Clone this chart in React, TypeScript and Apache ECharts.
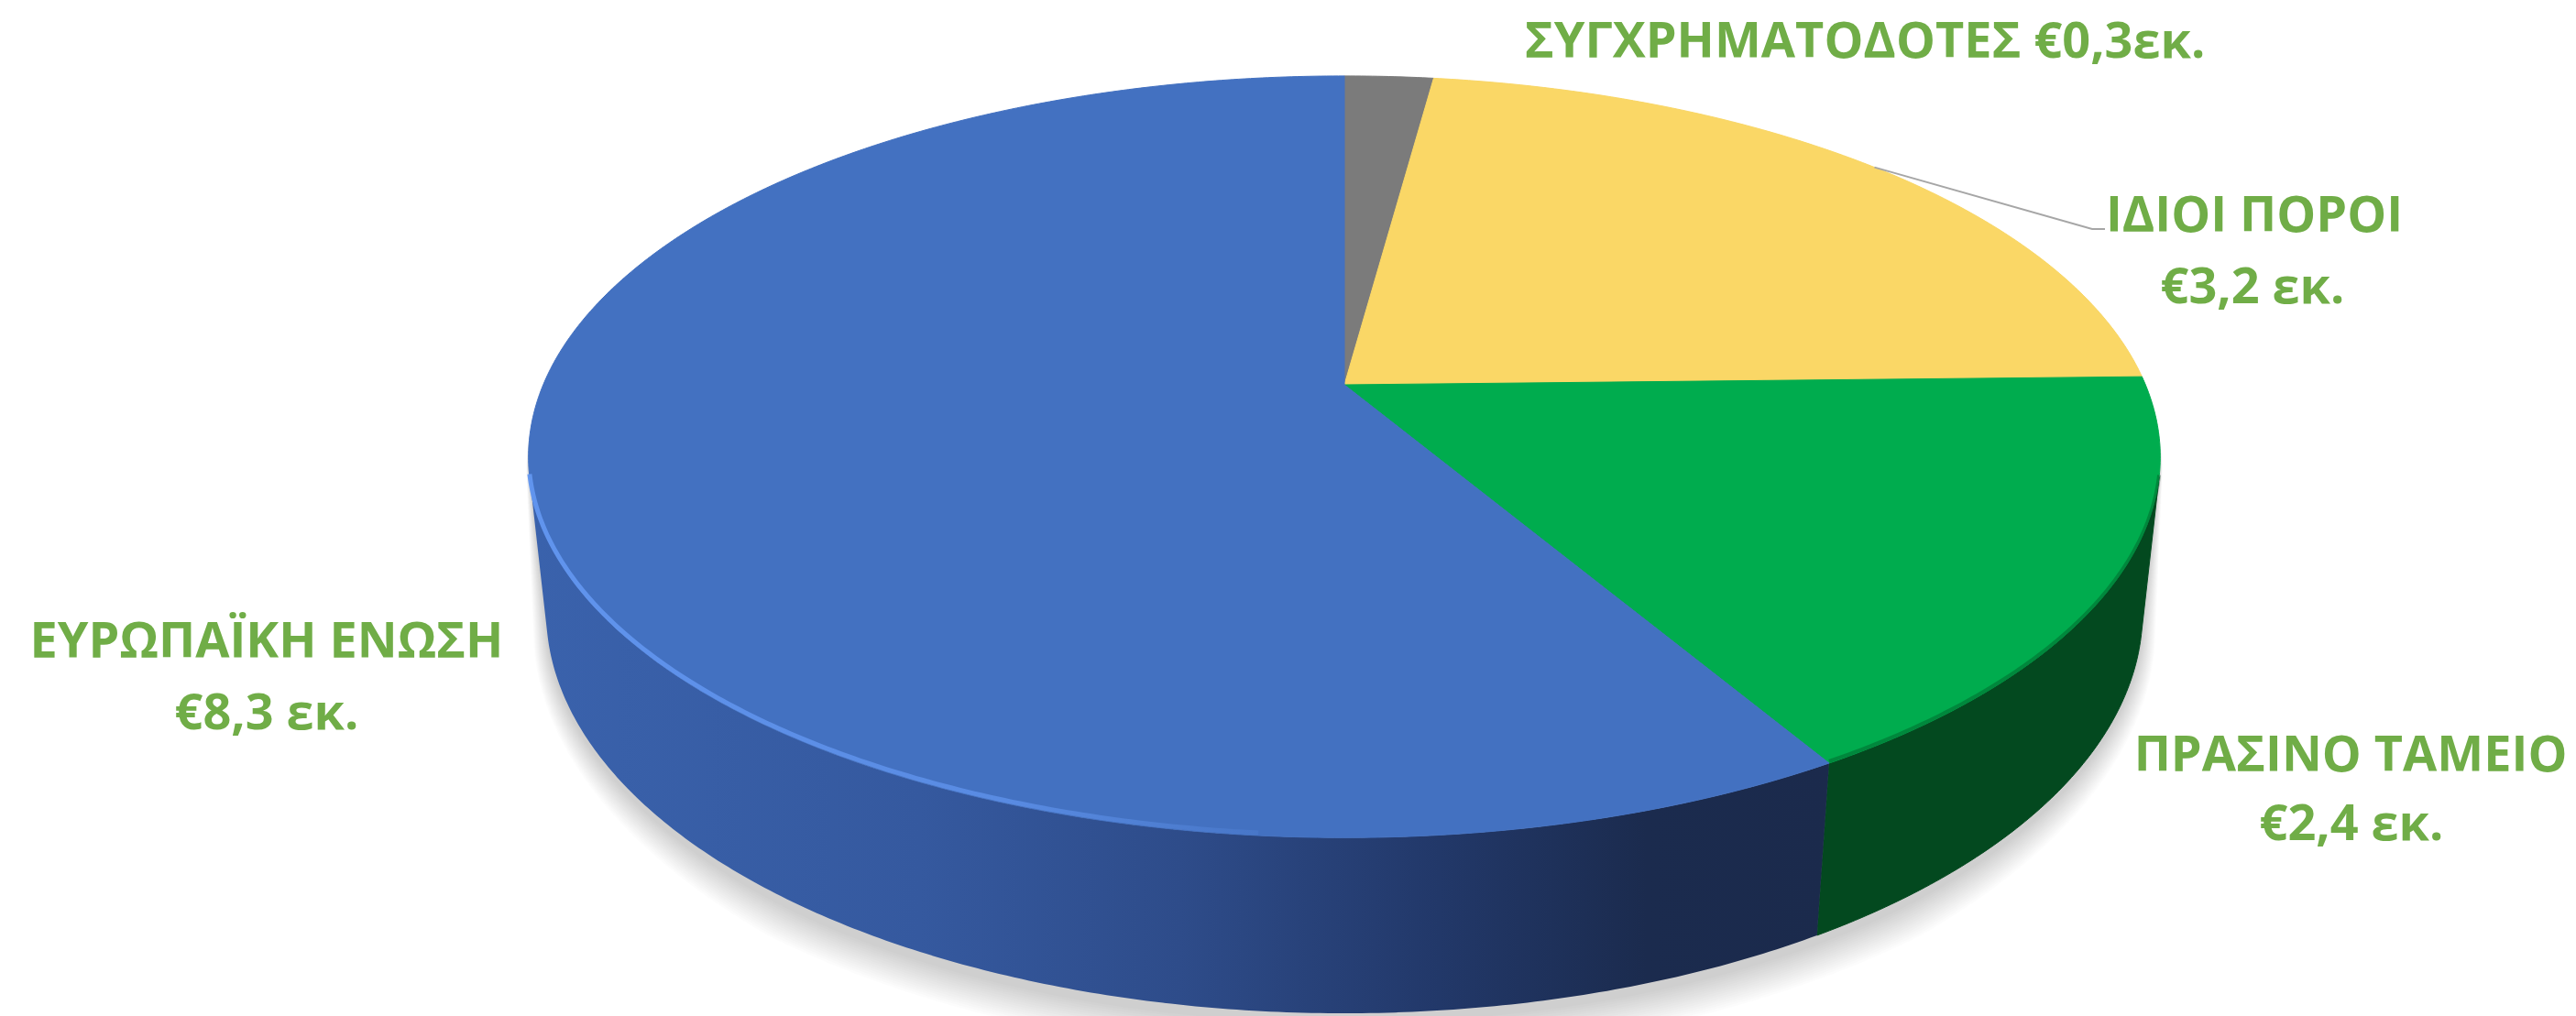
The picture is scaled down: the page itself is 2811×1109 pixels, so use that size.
import React, { useEffect, useRef } from 'react';
import * as echarts from 'echarts';

// ---- data ----
const categories = ['ΣΥΓΧΡΗΜΑΤΟΔΟΤΕΣ', 'ΙΔΙΟΙ ΠΟΡΟΙ', 'ΠΡΑΣΙΝΟ ΤΑΜΕΙΟ', 'ΕΥΡΩΠΑΪΚΗ ΕΝΩΣΗ'];
const values = [0.3, 3.2, 2.4, 8.3];
const valueLabels = ['€0,3εκ.', '€3,2 εκ.', '€2,4 εκ.', '€8,3 εκ.'];

// ---- styles ----
const TOP_COLORS = ['#7B7B7B', '#FAD766', '#00AC4E', '#4371C1'];
const LABEL_COLOR = '#70AD47';
const FONT = '"Open Sans", "Noto Sans", sans-serif';
const FONT_SIZE = 54;

// ---- 3D projection (perspective camera) ----
const CX = 1467;
const CY = 420;
const FOCAL = 4109;
const DIST = 4.7;
const SINP = 0.4585;
const COSP = 0.8887;
const THICK = 0.219;
const VS = 1 / (DIST * COSP);
const TH1 = (Math.acos(-VS) * 180) / Math.PI;
const TH2 = 360 - TH1;

function project(theta: number, y: number): number[] {
  const t = (theta * Math.PI) / 180;
  const u = Math.sin(t);
  const v = -Math.cos(t);
  const depth = DIST - y * SINP - v * COSP;
  return [CX + (FOCAL * u) / depth, CY - (FOCAL * (y * COSP - v * SINP)) / depth];
}

function arc(a: number, b: number, y: number): number[][] {
  const pts: number[][] = [];
  const n = Math.max(2, Math.ceil(Math.abs(b - a) / 0.5));
  for (let k = 0; k <= n; k++) pts.push(project(a + ((b - a) * k) / n, y));
  return pts;
}

// label anchors (pixel positions, center of each line)
const LABEL_POS: number[][][] = [
  [[2035, 42]],
  [[2460, 232], [2458, 310]],
  [[2565, 821], [2566, 896]],
  [[291, 697], [291, 775]],
];

export default function App() {
  const ref = useRef<HTMLDivElement>(null);
  useEffect(() => {
    document.body.style.margin = '0';
    document.body.style.overflow = 'hidden';
    const chart = echarts.init(ref.current!, undefined, { renderer: 'svg' });
    const total = values.reduce((s, v) => s + v, 0);
    let cum = 0;
    const data = values.map((v, i) => {
      const a = (cum / total) * 360;
      cum += v;
      const b = (cum / total) * 360;
      return { name: categories[i], value: [a, b, v, i] };
    });

    const sideFills: any[] = [
      '#4A4A4A',
      '#9C8540',
      '#03491F',
      new echarts.graphic.LinearGradient(0, 0, 1, 0, [
        { offset: 0, color: '#3A62AC' },
        { offset: 0.3, color: '#35599F' },
        { offset: 0.5, color: '#2E4C8A' },
        { offset: 0.7, color: '#223869' },
        { offset: 0.86, color: '#1B2B4E' },
        { offset: 1, color: '#1B2A4C' },
      ]),
    ];

    const option: any = {
      animation: false,
      backgroundColor: '#FFFFFF',
      series: [
        {
          type: 'custom',
          coordinateSystem: 'none',
          silent: true,
          z: 1,
          data,
          renderItem: (params: any, api: any) => {
            const i = params.dataIndex;
            const a1 = api.value(0);
            const a2 = api.value(1);
            const children: any[] = [];
            if (i === 0) {
              // soft shadow under the disc, built from expanded outlines (downwards only)
              const outline = [...arc(TH1, TH2, -THICK), ...arc(TH2, TH1 + 360, 0)];
              const c = [CX, 500];
              const N = 16;
              for (let k = N; k >= 1; k--) {
                const grow = k * 2.6;
                const pts = outline.map((p) => {
                  const dx = p[0] - c[0];
                  const dy = p[1] - c[1];
                  const len = Math.sqrt(dx * dx + dy * dy) || 1;
                  const w = Math.max(0, Math.min(1, (dy / len) * 1.5 + 0.05));
                  return [p[0] + (dx / len) * grow * w, p[1] + (dy / len) * grow * w + 8 * w];
                });
                children.push({
                  type: 'polygon',
                  shape: { points: pts },
                  style: { fill: 'rgba(0,0,0,0.011)' },
                });
              }
            }
            const s = Math.max(a1, TH1);
            const e = Math.min(a2, TH2);
            if (e > s) {
              const pts = [...arc(s, e, 0), ...arc(e, s, -THICK)];
              children.push({
                type: 'polygon',
                shape: { points: pts },
                style: { fill: sideFills[i], stroke: i === 2 ? '#03491F' : 'none', lineWidth: 1 },
              });
            }
            return { type: 'group', children };
          },
        },
        {
          type: 'custom',
          coordinateSystem: 'none',
          silent: true,
          z: 2,
          data,
          renderItem: (params: any, api: any) => {
            const i = params.dataIndex;
            const a1 = api.value(0);
            const a2 = api.value(1);
            const pts = [[CX, CY], ...arc(a1, a2, 0)];
            const children: any[] = [
              {
                type: 'polygon',
                shape: { points: pts },
                style: { fill: TOP_COLORS[i], stroke: TOP_COLORS[i], lineWidth: 1 },
              },
            ];
            if (i === 3) {
              const rim = arc(Math.min(a2, TH2), 185, 0).map((p) => [p[0], p[1] - 3]);
              children.push({
                type: 'polyline',
                shape: { points: rim },
                style: {
                  fill: 'none',
                  lineWidth: 5,
                  stroke: new echarts.graphic.LinearGradient(
                    577, 0, 1450, 0,
                    [
                      { offset: 0, color: 'rgba(98,150,240,0.95)' },
                      { offset: 0.6, color: 'rgba(98,150,240,0.7)' },
                      { offset: 1, color: 'rgba(98,150,240,0)' },
                    ],
                    true
                  ),
                },
              });
            }
            if (i === 2) {
              const rim = arc(Math.max(a1, TH1), a2, 0).map((p) => [p[0], p[1] - 2]);
              children.push({
                type: 'polyline',
                shape: { points: rim },
                style: { fill: 'none', lineWidth: 4, stroke: 'rgba(0,70,30,0.35)' },
              });
            }
            if (i === 1) {
              const mid = (a1 + a2) / 2;
              const p = project(mid, 0);
              children.push({
                type: 'polyline',
                shape: { points: [p, [2283, 250], [2297, 250]] },
                style: { fill: 'none', stroke: '#A6A6A6', lineWidth: 2 },
              });
            }
            const pos = LABEL_POS[i];
            const lines =
              pos.length === 1
                ? [categories[i] + ' ' + valueLabels[i]]
                : [categories[i], valueLabels[i]];
            lines.forEach((txt, k) => {
              children.push({
                type: 'text',
                x: pos[k][0],
                y: pos[k][1],
                style: {
                  text: txt,
                  fill: LABEL_COLOR,
                  fontSize: FONT_SIZE,
                  fontFamily: FONT,
                  fontWeight: 'bold',
                  align: 'center',
                  verticalAlign: 'middle',
                },
              });
            });
            return { type: 'group', children };
          },
        },
      ],
    };
    chart.setOption(option);
    return () => chart.dispose();
  }, []);
  return <div ref={ref} style={{ width: 2811, height: 1109 }} />;
}
